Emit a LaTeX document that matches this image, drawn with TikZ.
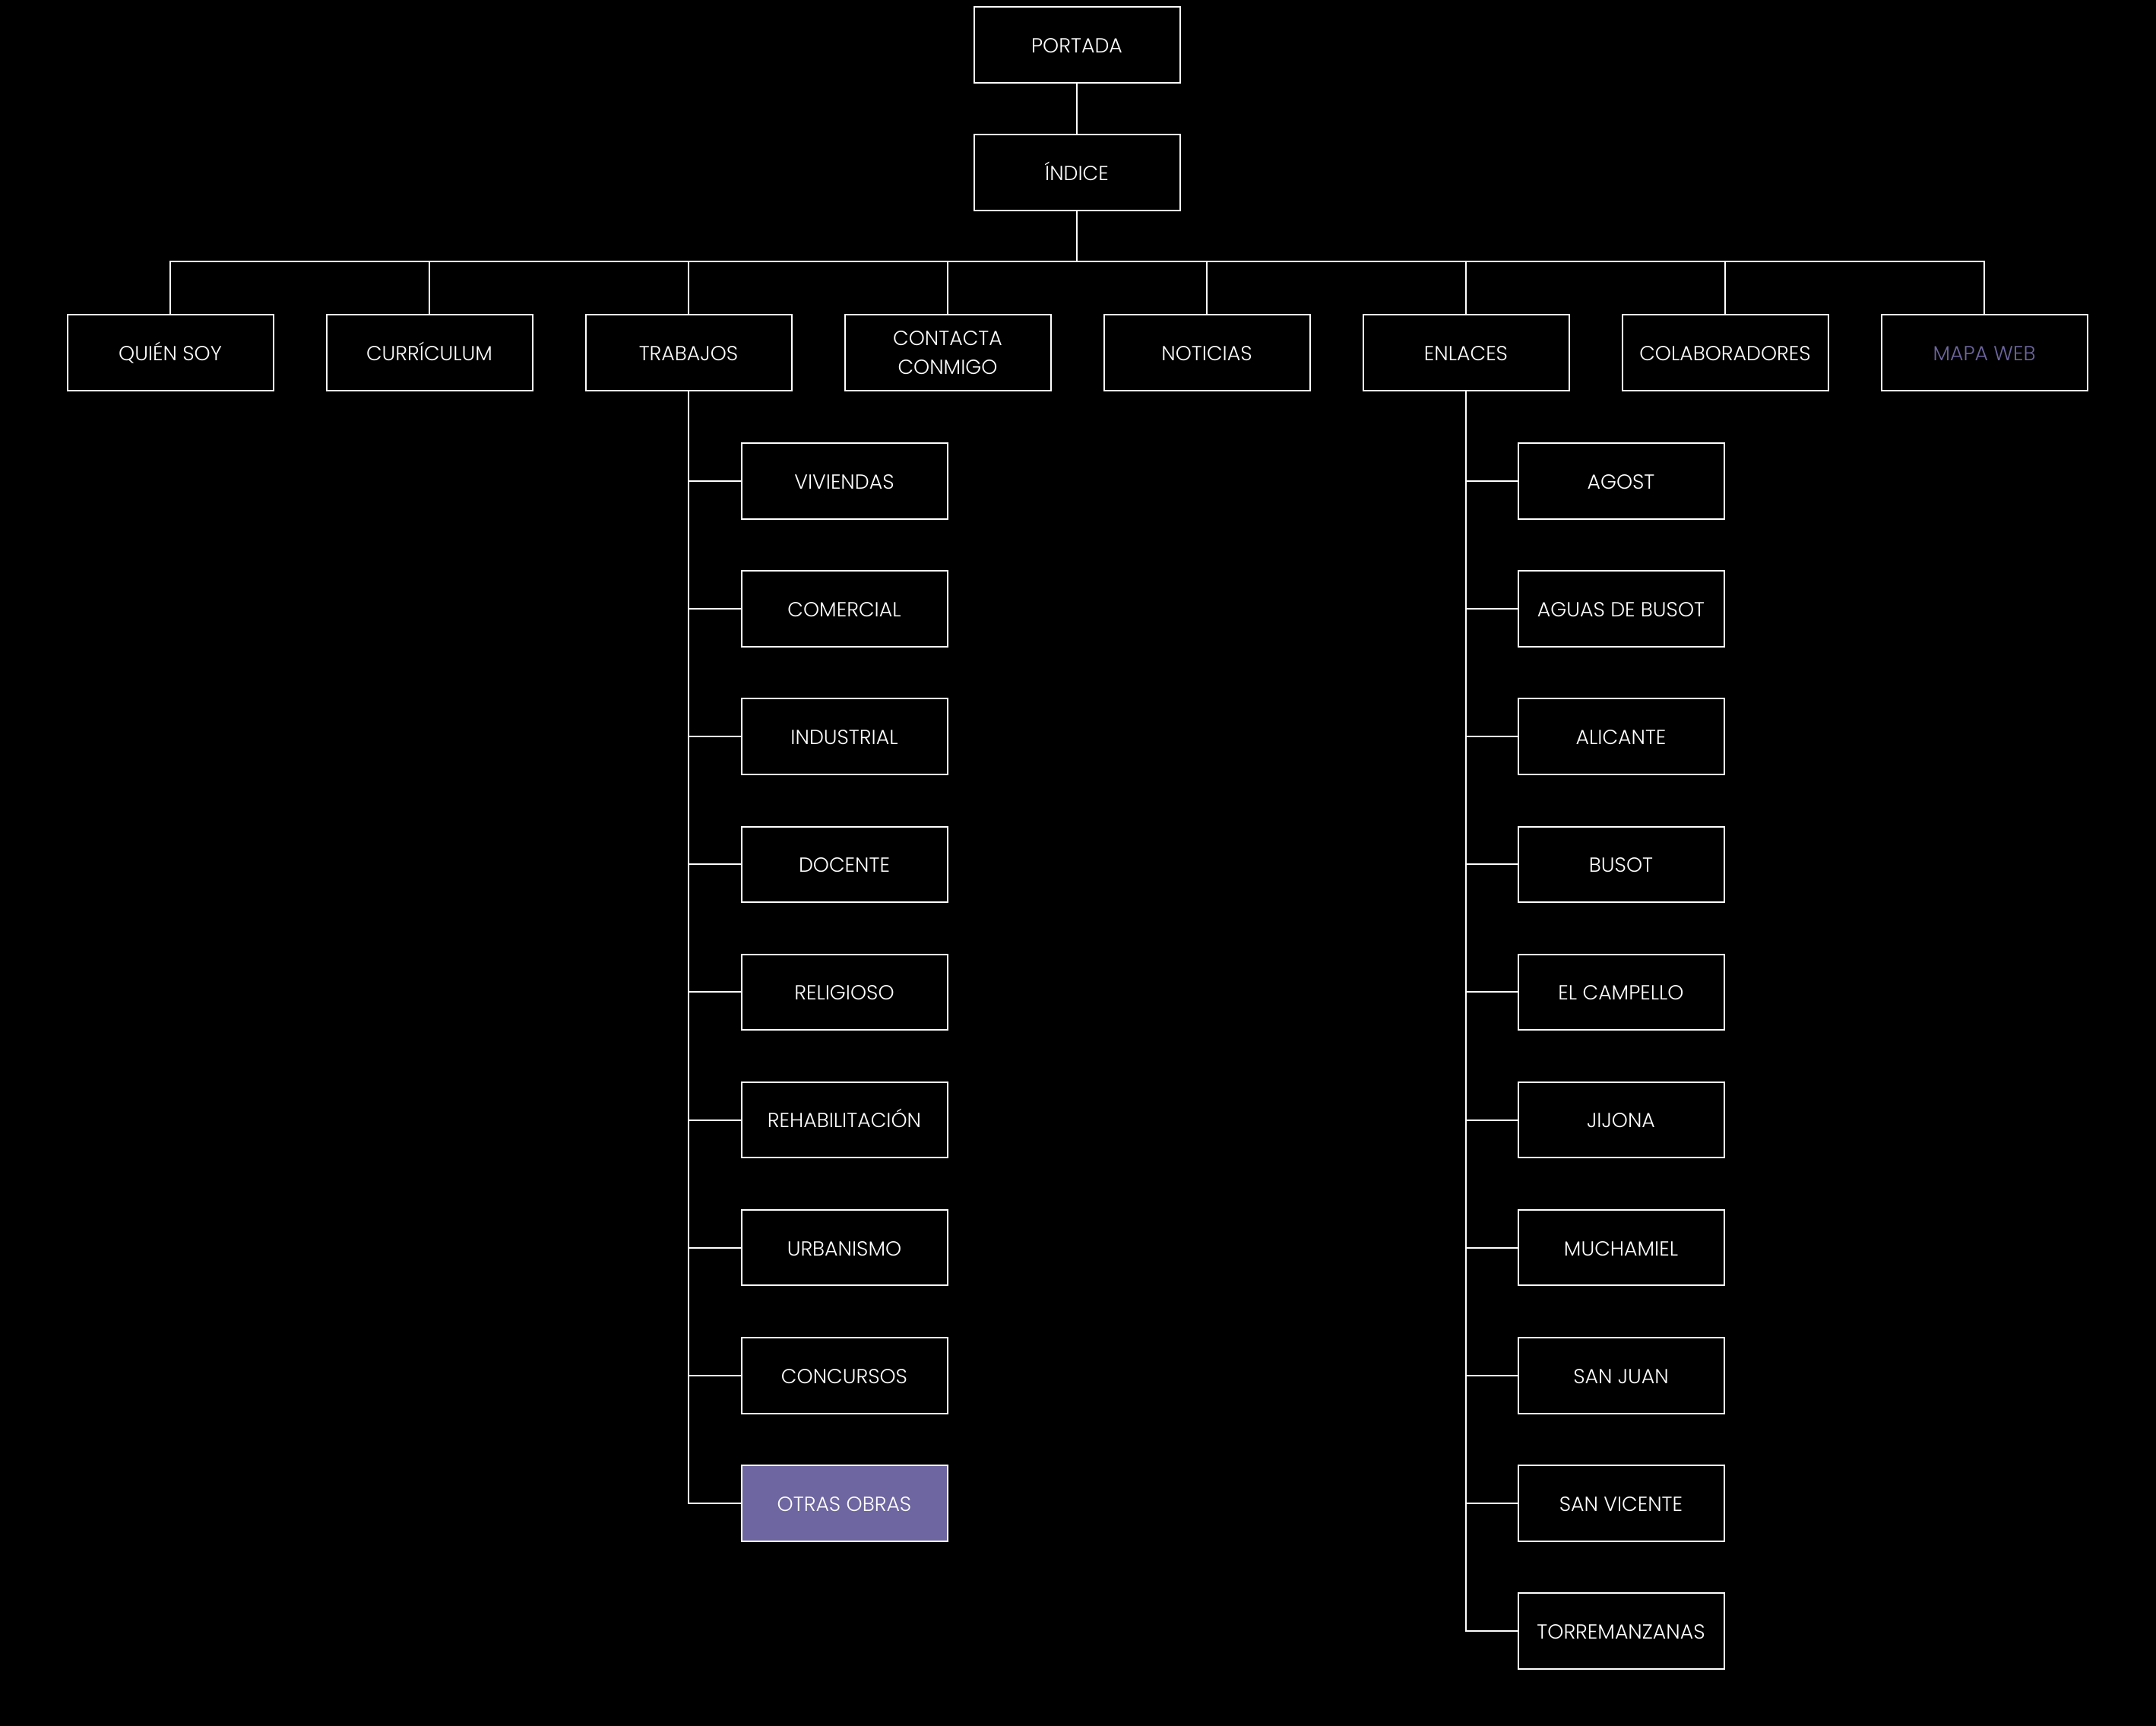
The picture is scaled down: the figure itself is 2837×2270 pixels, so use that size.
\documentclass[tikz,border=0pt]{standalone}
\usepackage{fontspec}
\setmainfont{Poppins}[UprightFont={* Light}]
\begin{document}
\begin{tikzpicture}[x=0.25pt,y=-0.25pt,
  box/.style={draw=white,line width=0.5pt,fill=black,text=white,minimum width=67.75pt,minimum height=24.9pt,inner sep=0pt,align=center,text height=5.2pt,text depth=0pt,font=\fontsize{6.7}{9.5}\selectfont},
  conn/.style={draw=white,line width=0.5pt}]
\definecolor{lav}{RGB}{110,102,160}
\useasboundingbox (0,0) rectangle (2837,2270);
\fill[black] (-10,-10) rectangle (2847,2280);
\node[box] (portada) at (1417,59) {PORTADA};
\node[box] (indice) at (1417,227) {ÍNDICE};
\coordinate (bus) at (0,344);
\node[box] (quien) at (224,464) {QUIÉN SOY};
\node[box] (curr) at (565,464) {CURRÍCULUM};
\node[box] (trab) at (906,464) {TRABAJOS};
\node[box,text height=,text depth=] (cont) at (1247,464) {CONTACTA\\CONMIGO};
\node[box] (noti) at (1588,464) {NOTICIAS};
\node[box] (enla) at (1929,464) {ENLACES};
\node[box] (cola) at (2270,464) {COLABORADORES};
\node[box,text=lav] (mapa) at (2611,464) {MAPA WEB};
\draw[conn] (portada) -- (indice);
\draw[conn] (indice.south) -- (indice.south |- bus);
\foreach \n in {quien,curr,trab,cont,noti,enla,cola,mapa}
  \draw[conn] (indice.south |- bus) -| (\n.north);
% TRABAJOS children
\foreach \t [count=\i] in {VIVIENDAS,COMERCIAL,INDUSTRIAL,DOCENTE,RELIGIOSO,REHABILITACIÓN,URBANISMO,CONCURSOS}
  \node[box] (t\i) at (1111,{633+168.1*(\i-1)}) {\t};
\node[box,fill=lav] (t9) at (1111,{633+168.1*8}) {OTRAS OBRAS};
\foreach \i in {1,...,9}
  \draw[conn] (trab.south) |- (t\i.west);
% ENLACES children
\foreach \t [count=\i] in {AGOST,AGUAS DE BUSOT,ALICANTE,BUSOT,EL CAMPELLO,JIJONA,MUCHAMIEL,SAN JUAN,SAN VICENTE,TORREMANZANAS}
  \node[box] (e\i) at (2133,{633+168.1*(\i-1)}) {\t};
\foreach \i in {1,...,10}
  \draw[conn] (enla.south) |- (e\i.west);
\end{tikzpicture}
\end{document}
